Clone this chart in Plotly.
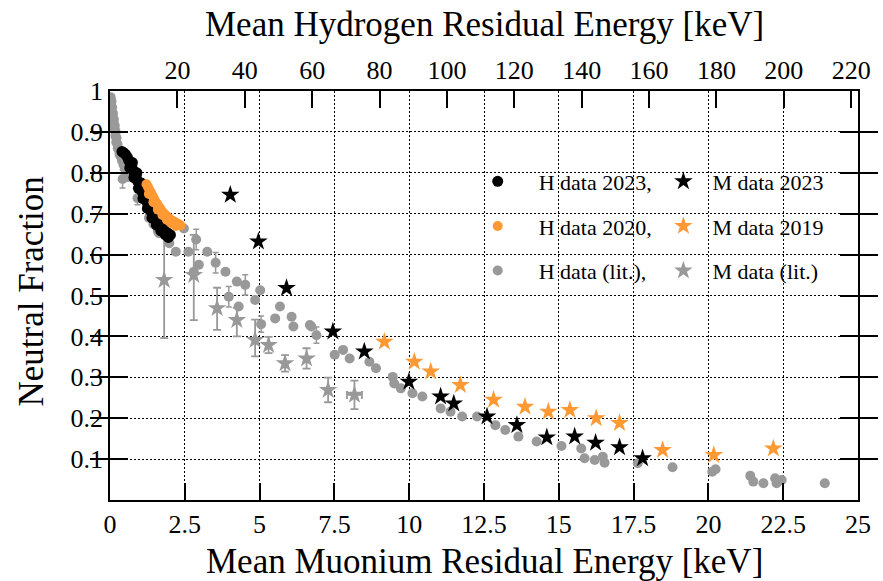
import plotly.graph_objects as go

# Hydrogen / muonium kinetic-energy ratio at equal velocity
MU_TO_H = 8.88

FONT = "Liberation Serif"
GRAY = "#999999"
ORANGE = "#ff9933"

# ---------------- H data 2023 (black circles) ----------------
h23_e = [0.40, 0.46, 0.52, 0.58, 0.63, 0.68, 0.73, 0.78, 0.83, 0.88, 0.93, 0.98,
         1.03, 1.08, 1.13, 1.18, 1.23, 1.28, 1.33, 1.38, 1.43, 1.48, 1.53, 1.58,
         1.63, 1.68, 1.73, 1.78, 1.83, 1.88, 1.93, 1.98, 2.02,
         0.66, 0.80, 0.95, 1.10, 1.25, 1.40, 1.55, 1.70, 1.85, 1.95,
         0.75, 0.90, 1.05, 1.20]
h23_f = [0.852, 0.849, 0.845, 0.838, 0.830, 0.823, 0.814, 0.805, 0.796, 0.788, 0.779, 0.770,
         0.761, 0.753, 0.745, 0.737, 0.729, 0.720, 0.712, 0.704, 0.696, 0.689, 0.683, 0.677,
         0.672, 0.668, 0.664, 0.661, 0.658, 0.655, 0.652, 0.650, 0.648,
         0.812, 0.788, 0.762, 0.737, 0.713, 0.690, 0.672, 0.658, 0.648, 0.642,
         0.825, 0.800, 0.775, 0.750]

# ---------------- H data 2020 (orange circles) ----------------
h20_e = [1.22, 1.27, 1.32, 1.37, 1.42, 1.47, 1.52, 1.57, 1.62, 1.67, 1.72, 1.77,
         1.82, 1.87, 1.92, 1.97, 2.02, 2.07, 2.12, 2.17, 2.22, 2.27, 2.32, 2.36,
         1.30, 1.45, 1.60, 1.75, 1.90, 2.05, 2.20]
h20_f = [0.772, 0.765, 0.758, 0.751, 0.744, 0.737, 0.730, 0.724, 0.718, 0.713, 0.708, 0.703,
         0.699, 0.695, 0.692, 0.689, 0.686, 0.683, 0.681, 0.679, 0.677, 0.675, 0.673, 0.671,
         0.748, 0.728, 0.710, 0.697, 0.685, 0.677, 0.670]

# ---------------- H data (literature, gray circles) ----------------
hlit_e = [0.02, 0.05, 0.03, 0.07, 0.06, 0.10, 0.09, 0.13, 0.12, 0.16, 0.15, 0.19,
          0.18, 0.22, 0.21, 0.25, 0.26, 0.30, 0.32, 0.36, 0.40, 0.45, 0.50, 0.55, 0.60,
          0.42, 0.92, 1.30, 1.45, 1.60,
          1.64, 1.98, 2.20, 2.47, 2.62, 2.88, 3.25, 2.97, 2.80, 3.53, 3.86, 4.24,
          3.97, 4.52, 4.30, 4.85, 5.02, 5.05, 5.68, 5.52, 6.07, 6.13, 6.68, 6.90,
          6.73, 7.51, 7.79, 8.01, 8.67, 8.89, 9.45, 9.50, 9.72, 10.11, 10.44, 11.05,
          11.38, 11.77, 12.27, 12.88, 13.21, 13.65, 14.26, 15.09, 15.75, 15.86, 16.20,
          16.47, 16.53, 17.64, 18.80, 20.13, 20.24, 21.40, 21.50, 21.84, 22.23, 22.28,
          22.45, 23.89]
hlit_f = [0.985, 0.975, 0.965, 0.960, 0.950, 0.945, 0.935, 0.930, 0.920, 0.915, 0.905, 0.900,
          0.890, 0.885, 0.875, 0.870, 0.860, 0.855, 0.845, 0.840, 0.830, 0.820, 0.810, 0.800, 0.790,
          0.785, 0.738, 0.690, 0.675, 0.658,
          0.652, 0.628, 0.607, 0.664, 0.607, 0.637, 0.607, 0.575, 0.558, 0.580, 0.558, 0.534,
          0.497, 0.526, 0.473, 0.489, 0.513, 0.430, 0.473, 0.444, 0.448, 0.424, 0.428, 0.403,
          0.424, 0.355, 0.367, 0.346, 0.338, 0.322, 0.301, 0.285, 0.273, 0.261, 0.253, 0.224,
          0.216, 0.204, 0.204, 0.183, 0.171, 0.155, 0.143, 0.132, 0.126, 0.102, 0.098,
          0.106, 0.091, 0.090, 0.080, 0.069, 0.075, 0.059, 0.045, 0.041, 0.053, 0.041,
          0.049, 0.041]
hlit_err = [0] * 25 + [0.022, 0.016, 0, 0, 0,
            0, 0, 0, 0, 0, 0.025, 0, 0, 0, 0.025, 0, 0,
            0.025, 0.025, 0, 0, 0, 0.02, 0, 0, 0, 0, 0, 0.02,
            0, 0, 0, 0, 0, 0, 0, 0, 0, 0, 0, 0,
            0, 0, 0, 0, 0, 0, 0, 0, 0, 0, 0,
            0, 0, 0, 0, 0, 0, 0, 0, 0, 0, 0,
            0, 0]

# ---------------- M data 2023 (black stars) ----------------
m23_e = [4.02, 4.96, 5.90, 7.45, 8.50, 9.99, 11.05, 11.49, 12.60, 13.60, 14.60,
         15.53, 16.23, 17.03, 17.80]
m23_f = [0.746, 0.632, 0.518, 0.412, 0.363, 0.289, 0.253, 0.236, 0.204, 0.183, 0.153,
         0.155, 0.140, 0.129, 0.102]

# ---------------- M data 2019 (orange stars) ----------------
m19_e = [9.17, 10.17, 10.72, 11.71, 12.82, 13.87, 14.65, 15.37, 16.25, 17.03, 18.47,
         20.18, 22.17]
m19_f = [0.387, 0.338, 0.314, 0.281, 0.245, 0.228, 0.216, 0.220, 0.200, 0.188, 0.122,
         0.110, 0.126]

# ---------------- M data (literature, gray stars) ----------------
mlit_e = [1.81, 2.80, 3.58, 4.24, 4.85, 5.30, 5.85, 6.57, 7.29, 8.17]
mlit_f = [0.538, 0.550, 0.469, 0.440, 0.391, 0.379, 0.334, 0.346, 0.269, 0.257]
mlit_err_up = [0.134, 0.098, 0.050, 0.030, 0.050, 0.020, 0.020, 0.025, 0.030, 0.035]
mlit_err_dn = [0.142, 0.110, 0.053, 0.040, 0.040, 0.020, 0.020, 0.025, 0.030, 0.035]
mlit_err_x = [0, 0, 0, 0, 0, 0, 0, 0, 0, 0.25]

# Axis ticks
x_major = [0, 2.5, 5, 7.5, 10, 12.5, 15, 17.5, 20, 22.5, 25]
x_labels = ["0", "2.5", "5", "7.5", "10", "12.5", "15", "17.5", "20", "22.5", "25"]
y_major = [0.1, 0.2, 0.3, 0.4, 0.5, 0.6, 0.7, 0.8, 0.9, 1.0]
y_labels = ["0.1", "0.2", "0.3", "0.4", "0.5", "0.6", "0.7", "0.8", "0.9", "1"]
h_major = [20, 40, 60, 80, 100, 120, 140, 160, 180, 200, 220]

fig = go.Figure()

fig.add_trace(go.Scatter(
    x=hlit_e, y=hlit_f, mode="markers", name="H data (lit.),",
    marker=dict(symbol="circle", size=10, color=GRAY),
    error_y=dict(type="data", array=hlit_err, visible=True, color=GRAY, thickness=1.5, width=3),
    legend="legend", legendgroup="hlit", legendrank=3))
fig.add_trace(go.Scatter(
    x=mlit_e, y=mlit_f, mode="markers", name="M data (lit.)",
    marker=dict(symbol="star", size=14, color=GRAY),
    error_y=dict(type="data", array=mlit_err_up, arrayminus=mlit_err_dn, visible=True,
                 color=GRAY, thickness=1.8, width=4),
    error_x=dict(type="data", array=mlit_err_x, visible=True, color=GRAY, thickness=1.8, width=4),
    legend="legend2", legendgroup="mlit", legendrank=3))
fig.add_trace(go.Scatter(
    x=h23_e, y=h23_f, mode="markers", name="H data 2023,",
    marker=dict(symbol="circle", size=11, color="black"),
    legend="legend", legendgroup="h23", legendrank=1))
fig.add_trace(go.Scatter(
    x=h20_e, y=h20_f, mode="markers", name="H data 2020,",
    marker=dict(symbol="circle", size=10, color=ORANGE),
    legend="legend", legendgroup="h20", legendrank=2))
fig.add_trace(go.Scatter(
    x=m23_e, y=m23_f, mode="markers", name="M data 2023",
    marker=dict(symbol="star", size=14, color="black"),
    legend="legend2", legendgroup="m23", legendrank=1))
fig.add_trace(go.Scatter(
    x=m19_e, y=m19_f, mode="markers", name="M data 2019",
    marker=dict(symbol="star", size=14, color=ORANGE),
    legend="legend2", legendgroup="m19", legendrank=2))
# empty trace carrying the hydrogen energy axis
fig.add_trace(go.Scatter(x=[], y=[], xaxis="x2", showlegend=False, hoverinfo="skip"))

tick_font = dict(family=FONT, size=26, color="black")
title_font = dict(family=FONT, size=35, color="black")
legend_common = dict(
    bgcolor="rgba(0,0,0,0)", font=dict(family=FONT, size=22, color="black"),
    xanchor="left", yanchor="top", tracegroupgap=13, traceorder="grouped",
    itemsizing="trace",
)

fig.update_layout(
    width=883, height=581,
    margin=dict(l=110, r=20, t=91, b=81),
    paper_bgcolor="white", plot_bgcolor="white",
    font=dict(family=FONT, color="black"),
    xaxis=dict(
        range=[0, 25], tickmode="array", tickvals=x_major, ticktext=x_labels,
        ticks="inside", ticklen=17, tickwidth=2, tickcolor="black",
        showline=True, linewidth=1.5, linecolor="black",
        showgrid=True, gridcolor="black", gridwidth=1, griddash="2px,2px",
        tickfont=tick_font,
    ),
    xaxis2=dict(
        overlaying="x", side="top", anchor="y",
        range=[0, 25 * MU_TO_H], tickmode="array", tickvals=h_major,
        ticks="inside", ticklen=17, tickwidth=2, tickcolor="black",
        showline=True, linewidth=1.5, linecolor="black",
        showgrid=False, tickfont=tick_font,
    ),
    yaxis=dict(
        range=[0, 1], tickmode="array", tickvals=y_major, ticktext=y_labels,
        ticks="inside", ticklen=18, tickwidth=2, tickcolor="black",
        showline=True, linewidth=1.5, linecolor="black", mirror="allticks",
        showgrid=True, gridcolor="black", gridwidth=1, griddash="2px,2px",
        tickfont=tick_font,
    ),
    legend=dict(x=0.4635, y=0.83, itemwidth=72, **legend_common),
    legend2=dict(x=0.7278, y=0.83, itemwidth=48, **legend_common),
    annotations=[
        dict(text="Mean Hydrogen Residual Energy [keV]", xref="paper", yref="paper",
             x=0.5, y=1, xanchor="center", yanchor="middle", yshift=67,
             showarrow=False, font=title_font),
        dict(text="Mean Muonium Residual Energy [keV]", xref="paper", yref="paper",
             x=0.5, y=0, xanchor="center", yanchor="middle", yshift=-61,
             showarrow=False, font=title_font),
        dict(text="Neutral Fraction", xref="paper", yref="paper", textangle=-90,
             x=0, y=0.5, xanchor="center", yanchor="middle", xshift=-79, yshift=4,
             showarrow=False, font=title_font),
    ],
)

fig.write_html("out.html")
